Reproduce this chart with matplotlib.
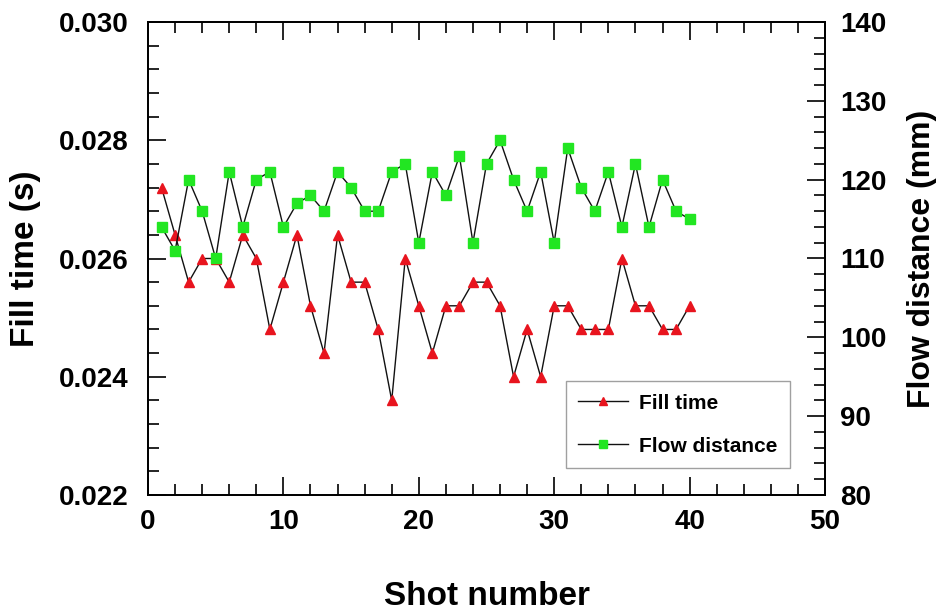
import matplotlib
matplotlib.use("Agg")
import matplotlib.pyplot as plt
from matplotlib.ticker import MultipleLocator, FormatStrFormatter

plt.rcParams['font.family'] = ['Liberation Sans', 'DejaVu Sans']
plt.rcParams['font.weight'] = 'bold'

shots = list(range(1, 41))
fill_time = [0.0272, 0.0264, 0.0256, 0.0260, 0.0260, 0.0256, 0.0264, 0.0260, 0.0248, 0.0256,
             0.0264, 0.0252, 0.0244, 0.0264, 0.0256, 0.0256, 0.0248, 0.0236, 0.0260, 0.0252,
             0.0244, 0.0252, 0.0252, 0.0256, 0.0256, 0.0252, 0.0240, 0.0248, 0.0240, 0.0252,
             0.0252, 0.0248, 0.0248, 0.0248, 0.0260, 0.0252, 0.0252, 0.0248, 0.0248, 0.0252]
flow_distance = [114, 111, 120, 116, 110, 121, 114, 120, 121, 114,
                 117, 118, 116, 121, 119, 116, 116, 121, 122, 112,
                 121, 118, 123, 112, 122, 125, 120, 116, 121, 112,
                 124, 119, 116, 121, 114, 122, 114, 120, 116, 115]

fig = plt.figure(figsize=(9.41, 6.10), dpi=100)
ax = fig.add_axes([148/941, 1-495/610, (825-148)/941, (495-22)/610])
ax2 = ax.twinx()

l1, = ax.plot(shots, fill_time, color='#111111', lw=1.0, marker='^', ms=7.5,
              mfc='#e8141e', mec='#e8141e', label='Fill time')
l2, = ax2.plot(shots, flow_distance, color='#111111', lw=1.0, marker='s', ms=7,
               mfc='#22e622', mec='#22e622', label='Flow distance')

ax.set_xlim(0, 50)
ax.set_ylim(0.022, 0.030)
ax2.set_ylim(80, 140)

ax.xaxis.set_major_locator(MultipleLocator(10))
ax.xaxis.set_minor_locator(MultipleLocator(2))
ax.yaxis.set_major_locator(MultipleLocator(0.002))
ax.yaxis.set_minor_locator(MultipleLocator(0.0004))
ax.yaxis.set_major_formatter(FormatStrFormatter('%.3f'))
ax2.yaxis.set_major_locator(MultipleLocator(10))
ax2.yaxis.set_minor_locator(MultipleLocator(2))

ax.tick_params(axis='x', which='both', direction='in', top=True, bottom=True,
               labelsize=20, pad=10, width=1.2)
ax.tick_params(axis='y', which='both', direction='in', left=True, right=False,
               labelsize=20, pad=14, width=1.2)
ax2.tick_params(axis='y', which='both', direction='in', right=True,
                labelsize=20, pad=11, width=1.2)
for a in (ax, ax2):
    a.tick_params(which='major', length=13)
    a.tick_params(which='minor', length=8)
    for s in a.spines.values():
        s.set_linewidth(1.3)

ax.set_xlabel('Shot number', fontsize=24, fontweight='bold', labelpad=33)
ax.set_ylabel('Fill time (s)', fontsize=24, fontweight='bold', labelpad=13)
ax2.set_ylabel('Flow distance (mm)', fontsize=23, fontweight='bold', labelpad=15)

leg = ax.legend(handles=[l1, l2], loc='lower left', bbox_to_anchor=(0.617, 0.057),
                borderaxespad=0, fontsize=15, frameon=True, fancybox=False,
                borderpad=0.6, labelspacing=1.15, handlelength=2.4,
                handletextpad=0.5, markerscale=0.75)
leg.get_frame().set_edgecolor('#888888')
leg.get_frame().set_linewidth(1.0)

fig.savefig('out.png', dpi=100)
